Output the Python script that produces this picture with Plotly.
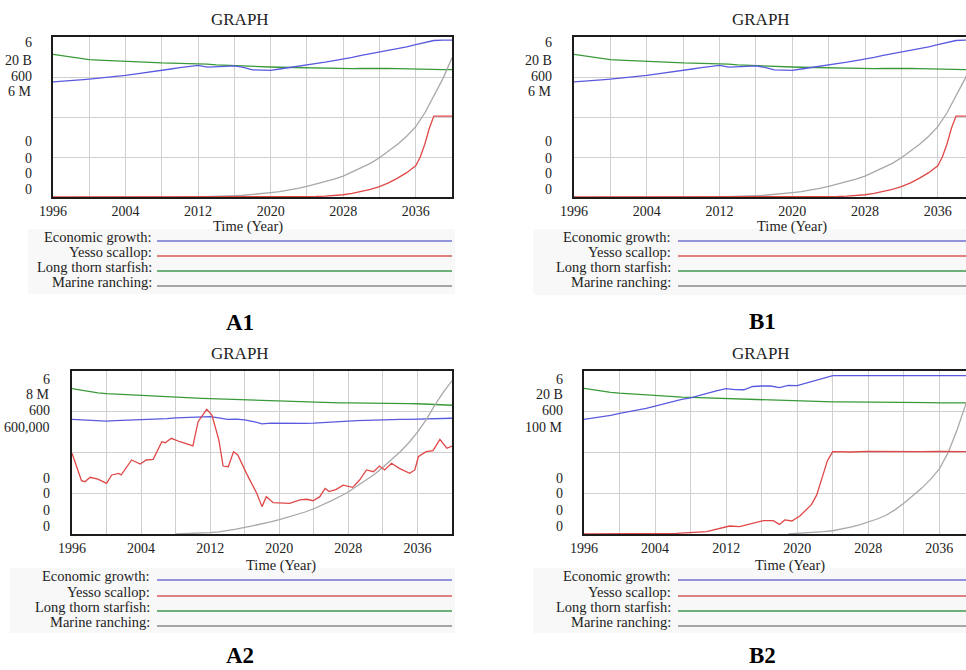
import plotly.graph_objects as go

# ---------------- data (each series as share of its own Vensim scale, 0..1) ----------------
YEARS = list(range(1996, 2041))

# A1 / B1 (same simulation run)
a1_econ = [0.719, 0.722, 0.728, 0.732, 0.737, 0.742, 0.748, 0.754, 0.760, 0.768, 0.777, 0.785,
           0.792, 0.800, 0.808, 0.816, 0.823, 0.812, 0.812, 0.816, 0.819, 0.810, 0.795, 0.792,
           0.792, 0.800, 0.808, 0.815, 0.823, 0.835, 0.843, 0.853, 0.862, 0.872, 0.885, 0.895,
           0.906, 0.916, 0.928, 0.938, 0.952, 0.967, 0.978, 0.980, 0.980]
a1_star = [0.892, 0.884, 0.875, 0.866, 0.858, 0.855, 0.852, 0.849, 0.846, 0.844, 0.842, 0.840,
           0.838, 0.837, 0.836, 0.835, 0.833, 0.830, 0.826, 0.823, 0.820, 0.818, 0.816, 0.814,
           0.8125, 0.811, 0.810, 0.809, 0.808, 0.806, 0.804, 0.802, 0.800, 0.802, 0.803, 0.804,
           0.804, 0.803, 0.802, 0.800, 0.798, 0.797, 0.797, 0.796, 0.796]
a1_scallop_years = [1996, 2023, 2024, 2025, 2026, 2027, 2028, 2029, 2030, 2031, 2032, 2033, 2034,
                    2035, 2036, 2036.5, 2037, 2037.5, 2038, 2039, 2040]
a1_scallop = [0, 0, 0.002, 0.003, 0.005, 0.008, 0.014, 0.022, 0.034, 0.048, 0.065, 0.088, 0.118,
              0.152, 0.195, 0.25, 0.33, 0.43, 0.506, 0.506, 0.506]
a1_ranch_years = list(range(2012, 2041))
a1_ranch = [0.0, 0.001, 0.003, 0.005, 0.008, 0.011, 0.015, 0.020, 0.027, 0.033, 0.042, 0.054,
            0.067, 0.082, 0.095, 0.112, 0.13, 0.155, 0.18, 0.21, 0.245, 0.285, 0.33, 0.38,
            0.44, 0.525, 0.63, 0.74, 0.87]

# A2
a2_econ = [0.703, 0.700, 0.695, 0.693, 0.693, 0.695, 0.697, 0.699, 0.700, 0.700,
           0.703, 0.708, 0.712, 0.714, 0.716, 0.718, 0.720, 0.712, 0.703, 0.705,
           0.700, 0.690, 0.676, 0.680, 0.679, 0.679, 0.679, 0.679, 0.680, 0.684,
           0.688, 0.693, 0.693, 0.696, 0.698, 0.700, 0.702, 0.700, 0.703, 0.703,
           0.705, 0.706, 0.708, 0.708, 0.710]
a2_star = [0.892, 0.882, 0.873, 0.866, 0.861, 0.858, 0.856, 0.853, 0.851, 0.848,
           0.845, 0.842, 0.839, 0.836, 0.834, 0.832, 0.830, 0.828, 0.826, 0.824,
           0.822, 0.820, 0.819, 0.818, 0.817, 0.815, 0.813, 0.811, 0.809, 0.807,
           0.805, 0.804, 0.804, 0.804, 0.803, 0.803, 0.802, 0.801, 0.800, 0.800,
           0.799, 0.797, 0.795, 0.792, 0.790]
a2_scallop_years = [1996, 1996.5, 1997.1, 1997.5, 1998.1, 1999, 2000, 2000.6, 2001.4, 2001.7,
                    2002.9, 2003.9, 2004.6, 2005.4, 2006.4, 2006.8, 2007.5, 2008.5, 2010, 2010.6,
                    2011.6, 2012.2, 2013, 2013.5, 2014.1, 2014.7, 2015.2, 2016.2, 2017.4, 2018,
                    2018.5, 2019.3, 2020.2, 2021.2, 2022.4, 2023.2, 2023.9, 2024.7, 2025.3, 2025.8,
                    2026.6, 2027.4, 2028.5, 2029.3, 2030.1, 2030.9, 2031.6, 2032.2, 2033, 2033.9,
                    2035.1, 2035.7, 2036.1, 2037, 2037.8, 2038.6, 2039.4, 2040]
a2_scallop = [0.495, 0.413, 0.327, 0.321, 0.348, 0.337, 0.311, 0.362, 0.372, 0.362,
              0.454, 0.429, 0.454, 0.458, 0.566, 0.560, 0.587, 0.566, 0.540, 0.689,
              0.765, 0.730, 0.577, 0.417, 0.413, 0.505, 0.485, 0.372, 0.249, 0.168,
              0.229, 0.192, 0.190, 0.188, 0.209, 0.213, 0.204, 0.229, 0.280, 0.260,
              0.274, 0.300, 0.286, 0.331, 0.393, 0.382, 0.417, 0.393, 0.434, 0.403,
              0.372, 0.393, 0.474, 0.505, 0.511, 0.581, 0.526, 0.540]
a2_ranch_years = list(range(2008, 2041))
a2_ranch = [0.0, 0.001, 0.003, 0.005, 0.008, 0.013, 0.02, 0.03, 0.04, 0.05, 0.062, 0.074,
            0.088, 0.103, 0.12, 0.135, 0.155, 0.178, 0.203, 0.23, 0.258, 0.294, 0.33, 0.365,
            0.41, 0.455, 0.505, 0.56, 0.625, 0.70, 0.79, 0.87, 0.94]

# B2
b2_econ = [0.703, 0.710, 0.720, 0.728, 0.740, 0.750, 0.760, 0.771, 0.785, 0.800,
           0.812, 0.826, 0.835, 0.850, 0.867, 0.880, 0.892, 0.886, 0.885, 0.905,
           0.908, 0.908, 0.898, 0.912, 0.910, 0.925, 0.940, 0.958, 0.972,
           0.972, 0.972, 0.972, 0.972, 0.972, 0.972, 0.972, 0.972,
           0.972, 0.972, 0.972, 0.972, 0.972, 0.972, 0.972, 0.972]
b2_star = [0.894, 0.885, 0.877, 0.869, 0.864, 0.860, 0.856, 0.853, 0.850, 0.846,
           0.843, 0.840, 0.838, 0.836, 0.834, 0.833, 0.832, 0.830, 0.827, 0.824,
           0.822, 0.820, 0.819, 0.818, 0.816, 0.814, 0.812, 0.811, 0.810,
           0.810, 0.810, 0.810, 0.810, 0.810, 0.810, 0.810, 0.810, 0.810,
           0.808, 0.806, 0.805, 0.805, 0.805, 0.805, 0.805]
b2_scallop_years = [1996, 2005, 2006.4, 2009.8, 2011.3, 2012.4, 2013.5, 2015, 2016.2, 2017.3,
                    2018, 2018.6, 2019.4, 2020.3, 2021, 2021.6, 2022.2, 2022.9, 2023.4, 2024,
                    2026, 2028, 2030, 2032, 2034, 2036, 2038, 2040]
b2_scallop = [0, 0, 0.004, 0.014, 0.035, 0.049, 0.045, 0.065, 0.082, 0.082,
              0.059, 0.086, 0.080, 0.110, 0.145, 0.180, 0.240, 0.370, 0.450, 0.505,
              0.503, 0.507, 0.505, 0.503, 0.505, 0.506, 0.504, 0.505]
b2_ranch_years = list(range(2019, 2041))
b2_ranch = [0.0, 0.003, 0.007, 0.011, 0.015, 0.02, 0.03, 0.042, 0.056, 0.072, 0.092, 0.115,
            0.148, 0.188, 0.232, 0.28, 0.335, 0.40, 0.50, 0.64, 0.80, 0.97]

SERIES_NAMES = ["Economic growth:", "Yesso scallop:", "Long thorn starfish:", "Marine ranching:"]
SERIES_COLORS = ["#5a5ae0", "#e04848", "#3a9a3a", "#a8a8a8"]
LEGEND_COLORS = ["#7272d4", "#d85a5a", "#3f9a4f", "#8a8a8a"]

A1_TOP = ["6", "20 B", "600", "6 M"]
A2_TOP = ["6", "8 M", "600", "600,000"]
B2_TOP = ["6", "20 B", "600", "100 M"]
BOTTOM = ["0", "0", "0", "0"]
X_TICKS = list(range(1996, 2041, 4))
X_TEXT = [str(v) if (v - 1996) % 8 == 0 else "" for v in X_TICKS]

# ---------------- layout helpers ----------------
W, H = 966, 670
FONT = "Liberation Serif, Times New Roman, serif"
TXT = "#222222"


def px(x):
    return x / W


def py(y):
    return 1 - y / H


panels = [
    dict(n=1, l=53, r=452, t=37, b=197, xmax=2040, full=True,
         data=[(YEARS, a1_econ), (a1_scallop_years, a1_scallop), (YEARS, a1_star), (a1_ranch_years, a1_ranch)],
         top=A1_TOP, labx=34, laby=[43, 60, 76, 91, 142, 158, 173, 189],
         title=(240, 19), xtitle=(248, 226), leg_text_x=154, leg_line=(157, 452),
         leg_y=[241, 256, 271, 286], bg=(28, 455, 229, 294), tag="A1", tag_pos=(240, 322), tag_bottom=False),
    dict(n=2, l=574, r=966, t=37, b=197, xmax=2039.1, full=False,
         data=[(YEARS, a1_econ), (a1_scallop_years, a1_scallop), (YEARS, a1_star), (a1_ranch_years, a1_ranch)],
         top=A1_TOP, labx=554, laby=[43, 60, 76, 91, 142, 158, 173, 189],
         title=(761, 19), xtitle=(792, 226), leg_text_x=673, leg_line=(678, 966),
         leg_y=[241, 256, 271, 286], bg=(533, 966, 229, 295), tag="B1", tag_pos=(762, 321), tag_bottom=False),
    dict(n=3, l=72, r=452, t=371, b=534, xmax=2040, full=True,
         data=[(YEARS, a2_econ), (a2_scallop_years, a2_scallop), (YEARS, a2_star), (a2_ranch_years, a2_ranch)],
         top=A2_TOP, labx=52, laby=[379, 394, 410, 427, 478, 494, 510, 526],
         title=(240, 353), xtitle=(281, 565), leg_text_x=152, leg_line=(157, 452),
         leg_y=[580, 596, 611, 626], bg=(10, 455, 568, 633), tag="A2", tag_pos=(240, 670), tag_bottom=True),
    dict(n=4, l=584, r=966, t=371, b=534, xmax=2039.0, full=False,
         data=[(YEARS, b2_econ), (b2_scallop_years, b2_scallop), (YEARS, b2_star), (b2_ranch_years, b2_ranch)],
         top=B2_TOP, labx=565, laby=[379, 394, 410, 427, 478, 494, 510, 526],
         title=(761, 353), xtitle=(790, 565), leg_text_x=673, leg_line=(678, 966),
         leg_y=[580, 596, 611, 626], bg=(533, 966, 568, 633), tag="B2", tag_pos=(762, 670), tag_bottom=True),
]

fig = go.Figure()
annotations = []
shapes = []
layout_axes = {}

for p in panels:
    n = p["n"]
    xa = "xaxis" if n == 1 else f"xaxis{n}"
    ya = "yaxis" if n == 1 else f"yaxis{n}"
    xr = "x" if n == 1 else f"x{n}"
    yr = "y" if n == 1 else f"y{n}"

    # legend background
    bx0, bx1, by0, by1 = p["bg"]
    shapes.append(dict(type="rect", xref="paper", yref="paper", x0=px(bx0), x1=px(bx1),
                       y0=py(by1), y1=py(by0), fillcolor="#f8f8f8", line=dict(width=0), layer="below"))

    # draw order: starfish, econ, ranch, scallop (red on top)
    for idx in [2, 0, 3, 1]:
        xs, ys = p["data"][idx]
        fig.add_trace(go.Scatter(x=xs, y=ys, mode="lines", xaxis=xr, yaxis=yr,
                                 line=dict(color=SERIES_COLORS[idx], width=1.3),
                                 showlegend=False, hoverinfo="skip"))

    layout_axes[xa] = dict(domain=[px(p["l"]), min(1.0, px(p["r"]))], anchor=yr,
                           range=[1996, p["xmax"]], tickmode="array", tickvals=X_TICKS,
                           ticktext=X_TEXT, showgrid=True, gridcolor="#cfcfcf", gridwidth=1,
                           zeroline=False, showline=True, linecolor="#1c1c1c", linewidth=2,
                           mirror=True, ticks="", automargin=False,
                           tickfont=dict(family=FONT, size=14, color=TXT), fixedrange=True)
    layout_axes[ya] = dict(domain=[py(p["b"]), py(p["t"])], anchor=xr, range=[0, 1],
                           tickmode="array", tickvals=[0.25, 0.5, 0.75], showticklabels=False,
                           showgrid=True, gridcolor="#cfcfcf", gridwidth=1, zeroline=False,
                           showline=True, linecolor="#1c1c1c", linewidth=2, automargin=False,
                           mirror=p["full"], ticks="", fixedrange=True)

    # scale labels (Vensim multi-scale)
    labels = p["top"] + BOTTOM
    for txt, yy in zip(labels, p["laby"]):
        annotations.append(dict(text=txt, x=px(p["labx"]), y=py(yy), xref="paper", yref="paper",
                                xanchor="right", yanchor="middle", showarrow=False,
                                font=dict(family=FONT, size=14, color=TXT)))

    # titles
    annotations.append(dict(text="GRAPH", x=px(p["title"][0]), y=py(p["title"][1]), xref="paper",
                            yref="paper", xanchor="center", yanchor="middle", showarrow=False,
                            font=dict(family=FONT, size=17, color=TXT)))
    annotations.append(dict(text="Time (Year)", x=px(p["xtitle"][0]), y=py(p["xtitle"][1]),
                            xref="paper", yref="paper", xanchor="center", yanchor="middle",
                            showarrow=False, font=dict(family=FONT, size=14.5, color=TXT)))

    # legend rows
    for name, col, ly in zip(SERIES_NAMES, LEGEND_COLORS, p["leg_y"]):
        annotations.append(dict(text=name, x=px(p["leg_text_x"]), y=py(ly - 4), xref="paper",
                                yref="paper", xanchor="right", yanchor="middle", showarrow=False,
                                font=dict(family=FONT, size=14.5, color=TXT)))
        shapes.append(dict(type="line", xref="paper", yref="paper", x0=px(p["leg_line"][0]),
                           x1=px(p["leg_line"][1]), y0=py(ly), y1=py(ly),
                           line=dict(color=col, width=1.3)))

    # panel tag
    annotations.append(dict(text="<b>" + p["tag"] + "</b>", x=px(p["tag_pos"][0]), y=py(p["tag_pos"][1]),
                            xref="paper", yref="paper", xanchor="center",
                            yanchor="bottom" if p["tag_bottom"] else "middle", showarrow=False,
                            font=dict(family=FONT, size=23, color="#000000")))

fig.update_layout(width=W, height=H, autosize=False,
                  margin=dict(l=0, r=0, t=0, b=0, pad=0, autoexpand=False),
                  paper_bgcolor="white", plot_bgcolor="white",
                  annotations=annotations, shapes=shapes, showlegend=False,
                  **layout_axes)

fig.write_html("out.html", config={"displayModeBar": False},
               post_script="document.body.style.margin='0px';document.body.style.overflow='hidden';")
